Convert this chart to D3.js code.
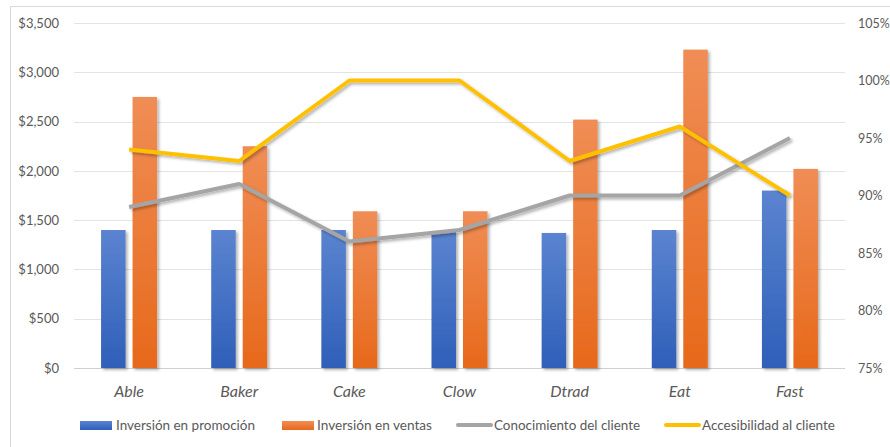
<!DOCTYPE html>
<html><head><meta charset="utf-8">
<script src="https://cdn.jsdelivr.net/npm/d3@7"></script>
<style>
html,body{margin:0;padding:0;background:#fff;}
svg{display:block;font-family:Lato,"Open Sans",sans-serif;}
</style></head>
<body><svg id="c" width="890" height="447"></svg>
<script>
const categories = ["Able","Baker","Cake","Clow","Dtrad","Eat","Fast"];
const promocion = [1400,1400,1400,1390,1370,1400,1800];
const ventas = [2750,2250,1590,1590,2520,3230,2020];
const conocimiento = [0.89,0.91,0.86,0.87,0.90,0.90,0.95];
const accesibilidad = [0.94,0.93,1.00,1.00,0.93,0.96,0.90];
const leftTicks = [0,500,1000,1500,2000,2500,3000,3500];
const rightTicks = [0.75,0.80,0.85,0.90,0.95,1.00,1.05];
const legendLabels = ["Inversión en promoción","Inversión en ventas","Conocimiento del cliente","Accesibilidad al cliente"];

const svg = d3.select("#c");
const L = 74, R = 845, T = 23, B = 368;

// chart border
svg.append("path").attr("d","M10.5,447 V6.5 H890").attr("fill","none").attr("stroke","#d9d9d9");

const defs = svg.append("defs");
const g1 = defs.append("linearGradient").attr("id","gBlue").attr("x1",0).attr("x2",0).attr("y1",0).attr("y2",1);
g1.append("stop").attr("offset","0").attr("stop-color","#5b84d0");
g1.append("stop").attr("offset","1").attr("stop-color","#2f5fb9");
const g2 = defs.append("linearGradient").attr("id","gOrange").attr("x1",0).attr("x2",0).attr("y1",0).attr("y2",1);
g2.append("stop").attr("offset","0").attr("stop-color","#f08d55");
g2.append("stop").attr("offset","1").attr("stop-color","#e7691b");
const f = defs.append("filter").attr("id","sh").attr("x","-20%").attr("y","-20%").attr("width","150%").attr("height","150%");
f.append("feDropShadow").attr("dx",2).attr("dy",2).attr("stdDeviation",1.5).attr("flood-color","#000").attr("flood-opacity",0.3);

const x = d3.scaleBand().domain(categories).range([L,R]);
const y = d3.scaleLinear().domain([0,3500]).range([B,T]);
const y2 = d3.scaleLinear().domain([0.75,1.05]).range([B,T]);

// gridlines
svg.append("g").selectAll("line").data(leftTicks).join("line")
  .attr("x1",L).attr("x2",R).attr("y1",d=>Math.round(y(d))+0.5).attr("y2",d=>Math.round(y(d))+0.5)
  .attr("stroke",d=>d===0?"#d0d0d0":"#e3e3e3").attr("stroke-width",1);

// left axis
const ax = svg.append("g").attr("transform",`translate(${L-12},0)`)
  .call(d3.axisLeft(y).tickValues(leftTicks).tickSize(0).tickFormat(d=>"$"+d3.format(",")(d)));
ax.select(".domain").remove();
ax.selectAll("text").attr("font-size",13).attr("fill","#595959").attr("font-family","Lato,sans-serif");

// right axis
const ax2 = svg.append("g").attr("transform",`translate(${R+10},0)`)
  .call(d3.axisRight(y2).tickValues(rightTicks).tickSize(0).tickFormat(d3.format(".0%")));
ax2.select(".domain").remove();
ax2.selectAll("text").attr("font-size",12.5).attr("fill","#595959").attr("font-family","Lato,sans-serif");

// category labels
svg.append("g").selectAll("text").data(categories).join("text")
  .attr("x",d=>x(d)+x.bandwidth()/2).attr("y",397).attr("text-anchor","middle")
  .attr("font-size",16).attr("font-style","italic").attr("fill","#595959").text(d=>d);

// bars
const bw = 24.5, gap = 7;
const barsG = svg.append("g").attr("filter","url(#sh)");
barsG.selectAll("rect.p").data(categories).join("rect")
  .attr("x",(d)=>x(d)+x.bandwidth()/2-gap/2-bw).attr("width",bw)
  .attr("y",(d,i)=>y(promocion[i])).attr("height",(d,i)=>y(0)-y(promocion[i]))
  .attr("fill","url(#gBlue)");
barsG.selectAll("rect.v").data(categories).join("rect")
  .attr("x",(d)=>x(d)+x.bandwidth()/2+gap/2).attr("width",bw)
  .attr("y",(d,i)=>y(ventas[i])).attr("height",(d,i)=>y(0)-y(ventas[i]))
  .attr("fill","url(#gOrange)");

// lines
const line = d3.line().x((d,i)=>x(categories[i])+x.bandwidth()/2).y(d=>y2(d));
svg.append("path").datum(conocimiento).attr("d",line).attr("fill","none")
  .attr("stroke","#a5a5a5").attr("stroke-width",4).attr("stroke-linejoin","round").attr("filter","url(#sh)");
svg.append("path").datum(accesibilidad).attr("d",line).attr("fill","none")
  .attr("stroke","#ffc000").attr("stroke-width",4).attr("stroke-linejoin","round").attr("filter","url(#sh)");

// legend
const lg = svg.append("g");
const items = [
  {type:"rect", fill:"url(#gBlue)", sx:80, sw:32, tx:116, tw:139},
  {type:"rect", fill:"url(#gOrange)", sx:282, sw:32, tx:317, tw:115},
  {type:"line", fill:"#a5a5a5", sx:458, sw:33, tx:494, tw:146},
  {type:"line", fill:"#ffc000", sx:666, sw:33, tx:702, tw:133}
];
items.forEach((it,i)=>{
  if(it.type==="rect"){
    lg.append("rect").attr("x",it.sx).attr("y",421).attr("width",it.sw).attr("height",9).attr("fill",it.fill);
  } else {
    lg.append("line").attr("x1",it.sx).attr("x2",it.sx+it.sw).attr("y1",425).attr("y2",425)
      .attr("stroke",it.fill).attr("stroke-width",4).attr("stroke-linecap","round");
  }
  lg.append("text").attr("x",it.tx).attr("y",429.5).attr("font-size",13).attr("fill","#595959")
    .attr("textLength",it.tw).attr("lengthAdjust","spacingAndGlyphs").text(legendLabels[i]);
});
</script></body></html>
